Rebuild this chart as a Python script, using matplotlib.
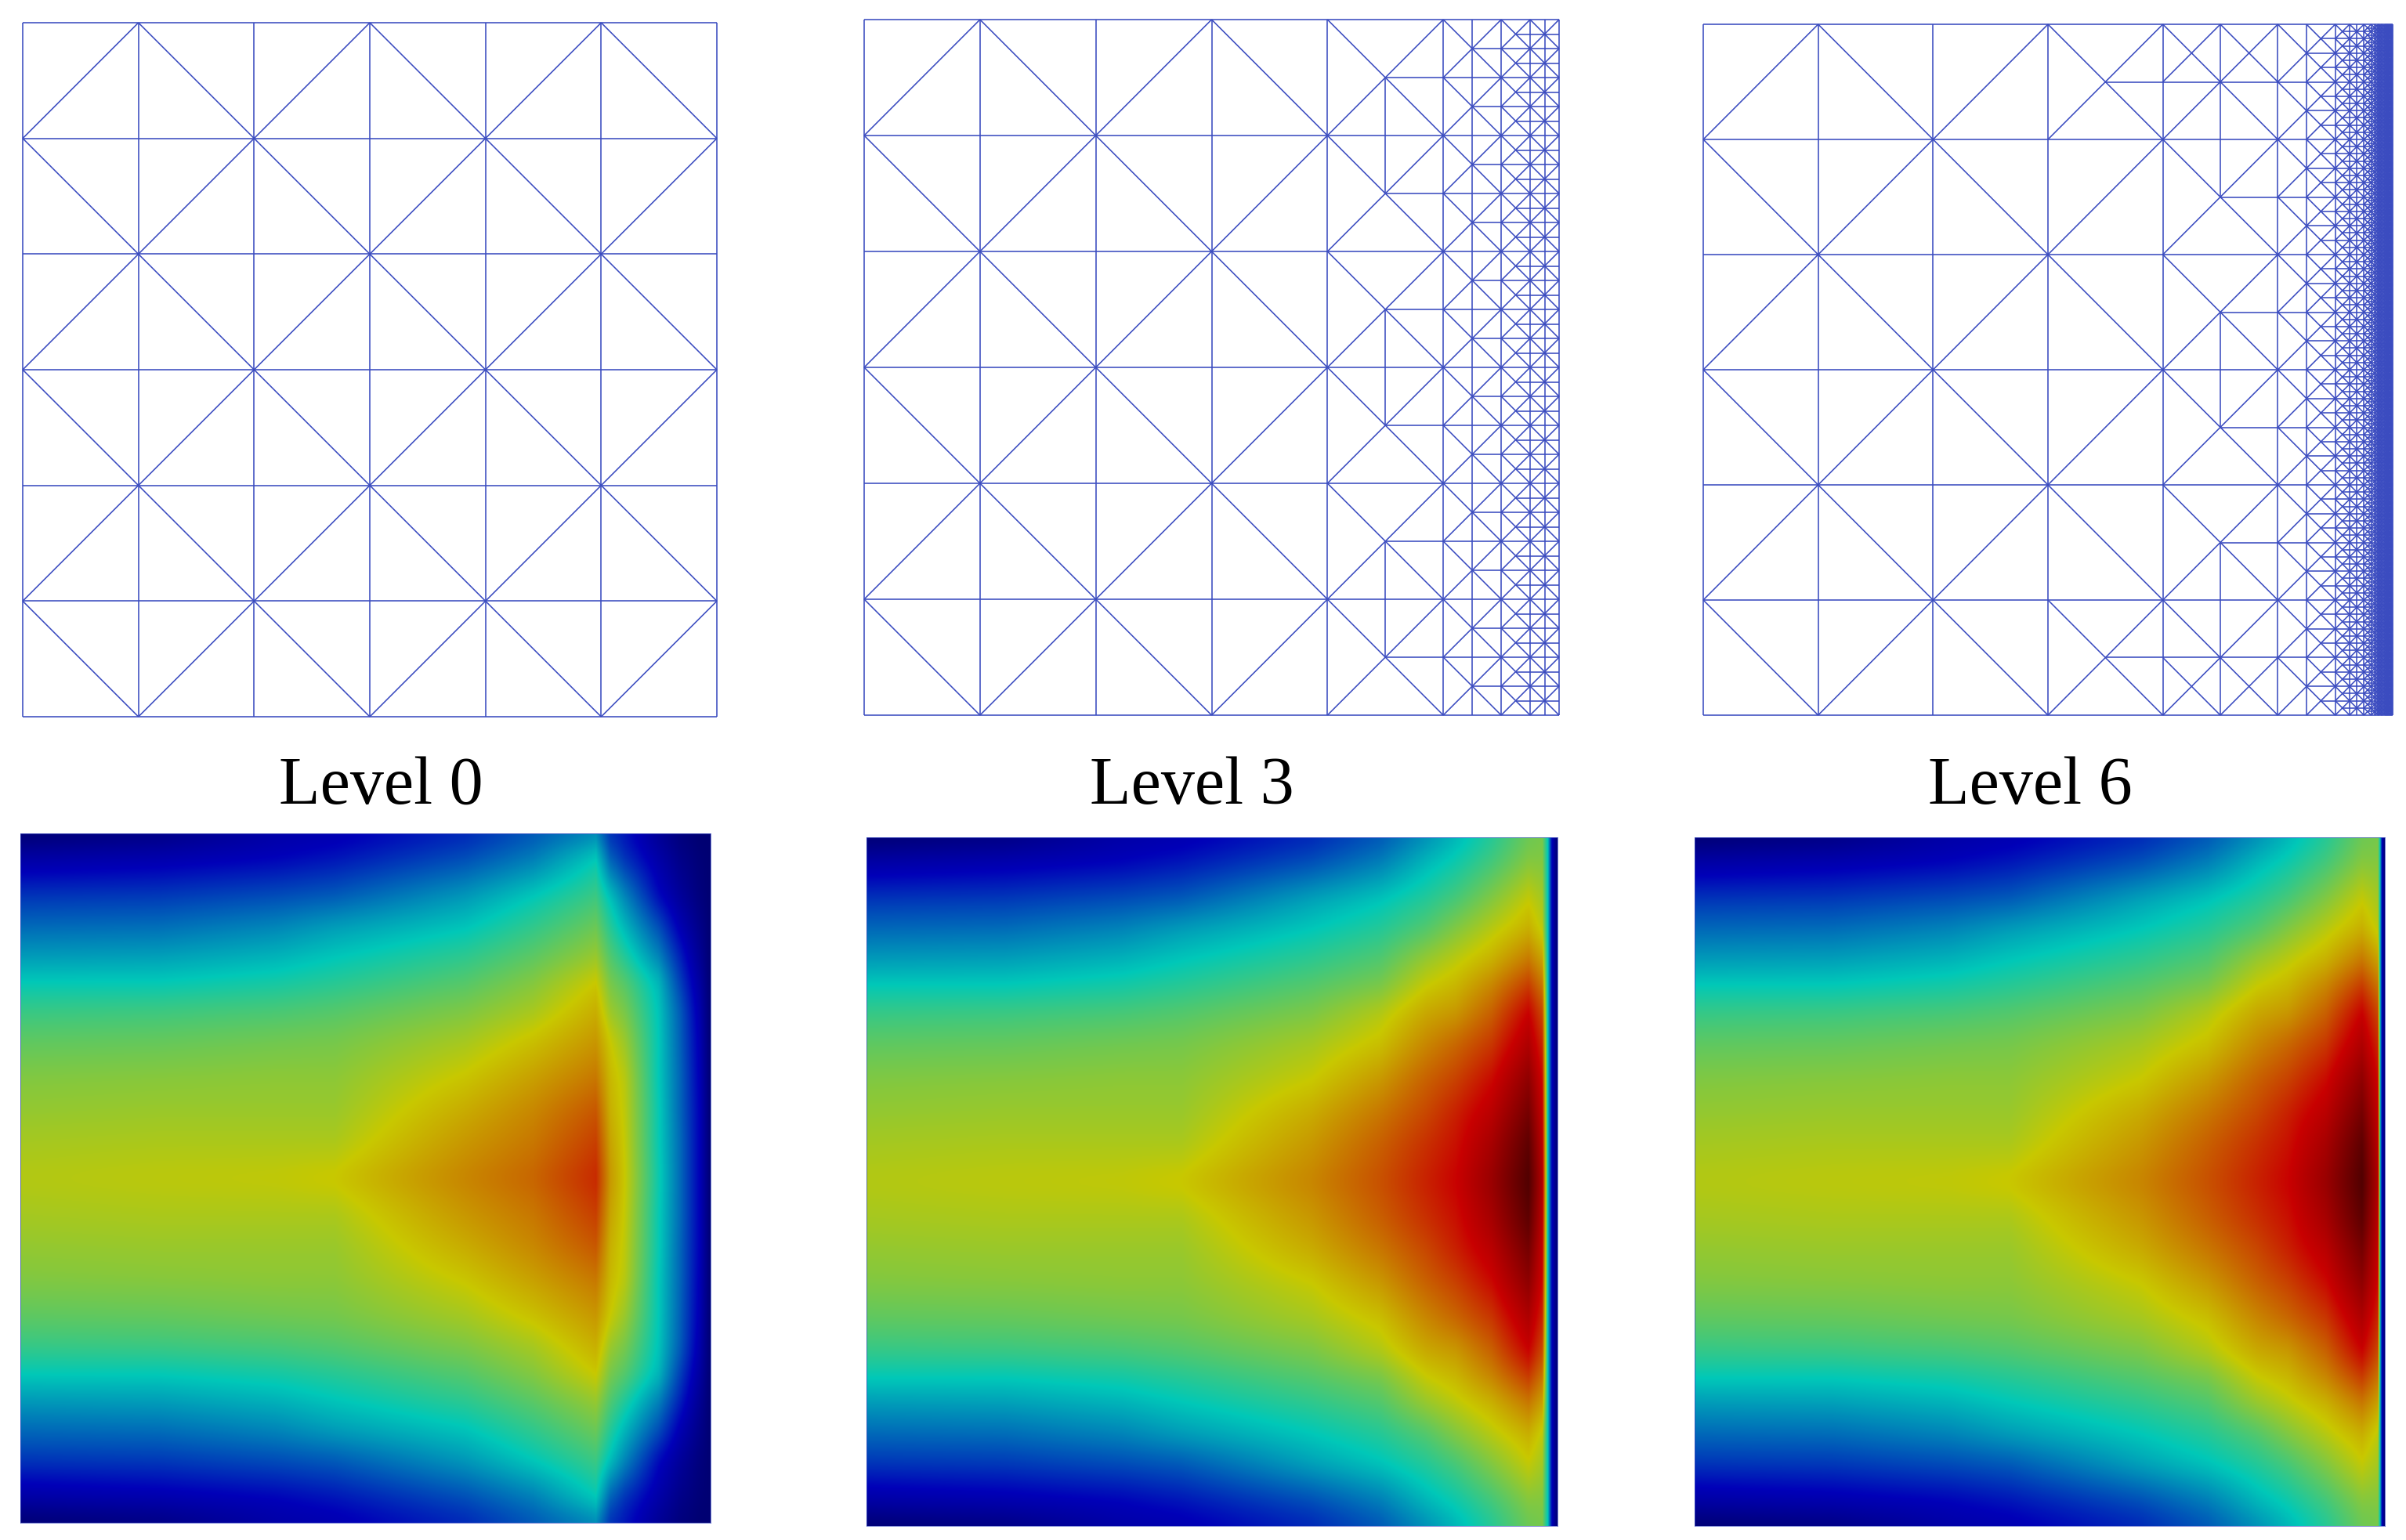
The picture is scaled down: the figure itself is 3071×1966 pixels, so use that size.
################################################################################
#  Adaptive mesh levels (top row) and the solution on them (bottom row)        #
################################################################################

import numpy as np
import matplotlib
matplotlib.use("Agg")
import matplotlib.pyplot as plt
from matplotlib.collections import LineCollection
from matplotlib.colors import LinearSegmentedColormap

W, H = 3071, 1966
SCALE = 1 << 12     # mesh vertices are kept as integers

level_names = ["Level 0", "Level 3", "Level 6"]

# refinement: largest x of a triangle -> bisection depth
l3_x_limits = [5.0, 5.25, 5.5, 5.75, 6.0]
l3_depths = [0, 3, 4, 5, 6]
l3_extra_mid = [(4.5, 1), (4.5, 3), (4.5, 5)]

l6_x_limits = [5.0, 5.25, 5.5, 5.625, 5.75, 5.8125, 5.875, 5.9375, 6.0]
l6_depths = [0, 3, 5, 6, 8, 9, 10, 12, 13]
l6_extra_mid = [(4.5, 1), (4.5, 3), (4.5, 5), (4.25, 0.25), (4.75, 0.25),
                (4.25, 5.75), (4.75, 5.75)]

# solution (0 = navy, 1 = dark red), top half, mirrored
rows_y = [0.0, 0.035, 0.09, 0.134, 0.18, 0.214, 0.255, 0.30, 0.354, 0.40, 0.445, 0.5]

left_u = [0.00, 0.085, 0.175, 0.23, 0.285, 0.33, 0.375, 0.41, 0.44, 0.455, 0.47, 0.483]
x20_u = [0.03, 0.10, 0.18, 0.235, 0.29, 0.33, 0.38, 0.415, 0.445, 0.46, 0.475, 0.49]
x37_u = [0.09, 0.12, 0.20, 0.26, 0.31, 0.345, 0.39, 0.425, 0.45, 0.46, 0.475, 0.495]
x46_u = [0.105, 0.14, 0.215, 0.285, 0.33, 0.36, 0.40, 0.43, 0.45, 0.46, 0.475, 0.505]

l0_x = [0.0, 0.2, 0.37, 0.456, 0.645, 0.743, 0.834, 0.855, 0.876, 0.925, 0.955, 0.984, 1.0]
l0_u = [left_u, x20_u, x37_u, x46_u,
        [0.16, 0.20, 0.28, 0.325, 0.37, 0.40, 0.435, 0.47, 0.505, 0.535, 0.56, 0.585],
        [0.21, 0.25, 0.33, 0.37, 0.41, 0.44, 0.47, 0.51, 0.55, 0.58, 0.60, 0.625],
        [0.26, 0.33, 0.38, 0.42, 0.46, 0.50, 0.53, 0.56, 0.60, 0.64, 0.67, 0.70],
        [0.17, 0.22, 0.32, 0.36, 0.40, 0.43, 0.46, 0.50, 0.52, 0.53, 0.545, 0.56],
        [0.14, 0.17, 0.26, 0.31, 0.36, 0.40, 0.43, 0.46, 0.485, 0.49, 0.495, 0.50],
        [0.06, 0.09, 0.13, 0.20, 0.26, 0.31, 0.325, 0.33, 0.33, 0.335, 0.335, 0.34],
        [0.02, 0.04, 0.07, 0.11, 0.16, 0.19, 0.22, 0.225, 0.23, 0.23, 0.235, 0.235],
        [0.00, 0.01, 0.02, 0.04, 0.06, 0.08, 0.10, 0.11, 0.115, 0.12, 0.12, 0.12],
        [0.0] * 12]

l3_x = [0.0, 0.2, 0.37, 0.456, 0.645, 0.743, 0.81, 0.853, 0.905, 0.958, 0.978, 0.986, 0.992, 1.0]
l6_x = [0.0, 0.2, 0.37, 0.456, 0.645, 0.743, 0.815, 0.86, 0.915, 0.967, 0.990, 0.993, 0.996, 1.0]
fine_u = [left_u, x20_u, x37_u, x46_u,
          [0.16, 0.20, 0.29, 0.33, 0.37, 0.40, 0.435, 0.47, 0.50, 0.535, 0.56, 0.585],
          [0.21, 0.25, 0.325, 0.36, 0.40, 0.43, 0.48, 0.51, 0.56, 0.60, 0.63, 0.65],
          [0.27, 0.31, 0.36, 0.40, 0.46, 0.495, 0.54, 0.58, 0.63, 0.66, 0.69, 0.71],
          [0.31, 0.34, 0.39, 0.44, 0.49, 0.52, 0.56, 0.62, 0.67, 0.71, 0.73, 0.75],
          [0.36, 0.385, 0.44, 0.485, 0.53, 0.58, 0.63, 0.68, 0.74, 0.78, 0.82, 0.85],
          [0.42, 0.44, 0.495, 0.53, 0.60, 0.67, 0.75, 0.80, 0.87, 0.92, 0.97, 1.00],
          [0.43, 0.44, 0.47, 0.49, 0.55, 0.60, 0.66, 0.70, 0.74, 0.76, 0.78, 0.80],
          [0.33] * 12,
          [0.12] * 12,
          [0.0] * 12]

cmap_stops = [0.0, 0.12, 0.33, 0.5, 0.75, 1.0]
cmap_colors = ["#000072", "#0000b8", "#00c8b8", "#c8c800", "#c80000", "#500000"]

mesh_color = "#3b4cc0"

# panels in pixels: left, top, right, bottom
mesh_boxes = [(29, 29, 915, 915), (1103, 25, 1990, 913), (2174, 31, 3054, 913)]
field_boxes = [(26, 1064, 907, 1944), (1106, 1069, 1988, 1948), (2163, 1069, 3044, 1948)]
label_x = [486, 1521, 2591]
label_y = 1005


def edge(p, q):
    return (p, q) if p < q else (q, p)


"""
Builds the 6x6 criss-cross mesh and bisects it, always across the longest edge
and keeping it conforming, until every triangle reaches the wanted depth.
Returns the list of unique edges.
"""
def build_mesh(x_limits, depths, extra_mid):
    tris = {}
    edge_map = {}
    next_id = [0]

    def add(a, b, c, k):
        tid = next_id[0]
        next_id[0] += 1
        tris[tid] = (a, b, c, k)
        for e in (edge(a, b), edge(b, c), edge(a, c)):
            edge_map.setdefault(e, set()).add(tid)

    def remove(tid):
        a, b, c, k = tris.pop(tid)
        for e in (edge(a, b), edge(b, c), edge(a, c)):
            edge_map[e].discard(tid)

    def split(tid):
        a, b, c, k = tris[tid]
        m = ((b[0] + c[0]) // 2, (b[1] + c[1]) // 2)
        remove(tid)
        add(m, a, b, k + 1)
        add(m, c, a, k + 1)

    def bisect(tid):
        a, b, c, k = tris[tid]
        key = edge(b, c)
        while True:
            others = edge_map[key] - {tid}
            if not others:
                split(tid)
                return
            n = next(iter(others))
            if edge(tris[n][1], tris[n][2]) == key:
                split(tid)
                split(n)
                return
            bisect(n)

    # diagonals join the vertices where i + j is odd
    for i in range(6):
        for j in range(6):
            p00 = (i * SCALE, j * SCALE)
            p10 = ((i + 1) * SCALE, j * SCALE)
            p01 = (i * SCALE, (j + 1) * SCALE)
            p11 = ((i + 1) * SCALE, (j + 1) * SCALE)
            if (i + j) % 2 == 1:
                add(p01, p00, p11, 0)
                add(p10, p00, p11, 0)
            else:
                add(p00, p10, p01, 0)
                add(p11, p10, p01, 0)

    limits = np.array(x_limits) * SCALE
    wanted = set((int(x * SCALE), int(y * SCALE)) for x, y in extra_mid)

    changed = True
    while changed:
        changed = False
        for tid in list(tris):
            if tid not in tris:
                continue
            a, b, c, k = tris[tid]
            xmax = max(a[0], b[0], c[0])
            target = depths[int(np.searchsorted(limits, xmax))]
            m = ((b[0] + c[0]) // 2, (b[1] + c[1]) // 2)
            if k < target or m in wanted:
                bisect(tid)
                changed = True

    return [e for e, owners in edge_map.items() if owners]


def panel(box):
    left, top, right, bottom = box
    return plt.gcf().add_axes([left / W, 1 - bottom / H,
                               (right - left) / W, (bottom - top) / H])


def draw_mesh(box, edges):
    ax = panel(box)
    segs = np.array(edges, dtype=float) / SCALE
    ax.add_collection(LineCollection(segs, colors=mesh_color, linewidths=1.15,
                                     clip_on=False))
    ax.set_xlim(0, 6)
    ax.set_ylim(6, 0)
    ax.axis("off")


"""
Shades the table of values. The table is resampled per pixel before it goes
through the colormap, so colours blend the way the original renderer does it.
A short vertical blur hides the table rows without touching the thin layer at
the right edge.
"""
def draw_field(box, xs, columns, cmap):
    ax = panel(box)
    top = np.array(columns).T
    full = np.vstack([top, top[-2::-1]])
    ys = np.array(rows_y + [1 - y for y in rows_y[-2::-1]])

    px_x = (np.arange(box[2] - box[0]) + 0.5) / (box[2] - box[0])
    px_y = (np.arange(box[3] - box[1]) + 0.5) / (box[3] - box[1])
    across = np.array([np.interp(px_x, xs, row) for row in full])
    shade = np.array([np.interp(px_y, ys, col) for col in across.T]).T

    win = 31
    kernel = np.ones(win) / win
    padded = np.pad(shade, ((win // 2, win // 2), (0, 0)), mode="edge")
    shade = np.array([np.convolve(col, kernel, mode="valid") for col in padded.T]).T

    ax.imshow(shade, cmap=cmap, vmin=0, vmax=1, extent=(0, 1, 1, 0),
              aspect="auto", interpolation="nearest")
    ax.set_xticks([])
    ax.set_yticks([])
    for spine in ax.spines.values():
        spine.set_color(mesh_color)
        spine.set_linewidth(0.5)


if __name__ == "__main__":
    fig = plt.figure(figsize=(W / 100, H / 100), dpi=100, facecolor="white")

    cmap = LinearSegmentedColormap.from_list("field", list(zip(cmap_stops, cmap_colors)), N=1024)

    draw_mesh(mesh_boxes[0], build_mesh([6.0], [0], []))
    draw_mesh(mesh_boxes[1], build_mesh(l3_x_limits, l3_depths, l3_extra_mid))
    draw_mesh(mesh_boxes[2], build_mesh(l6_x_limits, l6_depths, l6_extra_mid))

    draw_field(field_boxes[0], l0_x, l0_u, cmap)
    draw_field(field_boxes[1], l3_x, fine_u, cmap)
    draw_field(field_boxes[2], l6_x, fine_u, cmap)

    for name, x in zip(level_names, label_x):
        fig.text(x / W, 1 - label_y / H, name, family="Liberation Serif",
                 fontsize=62, ha="center", va="center", color="black")

    fig.savefig("out.png", dpi=100)
